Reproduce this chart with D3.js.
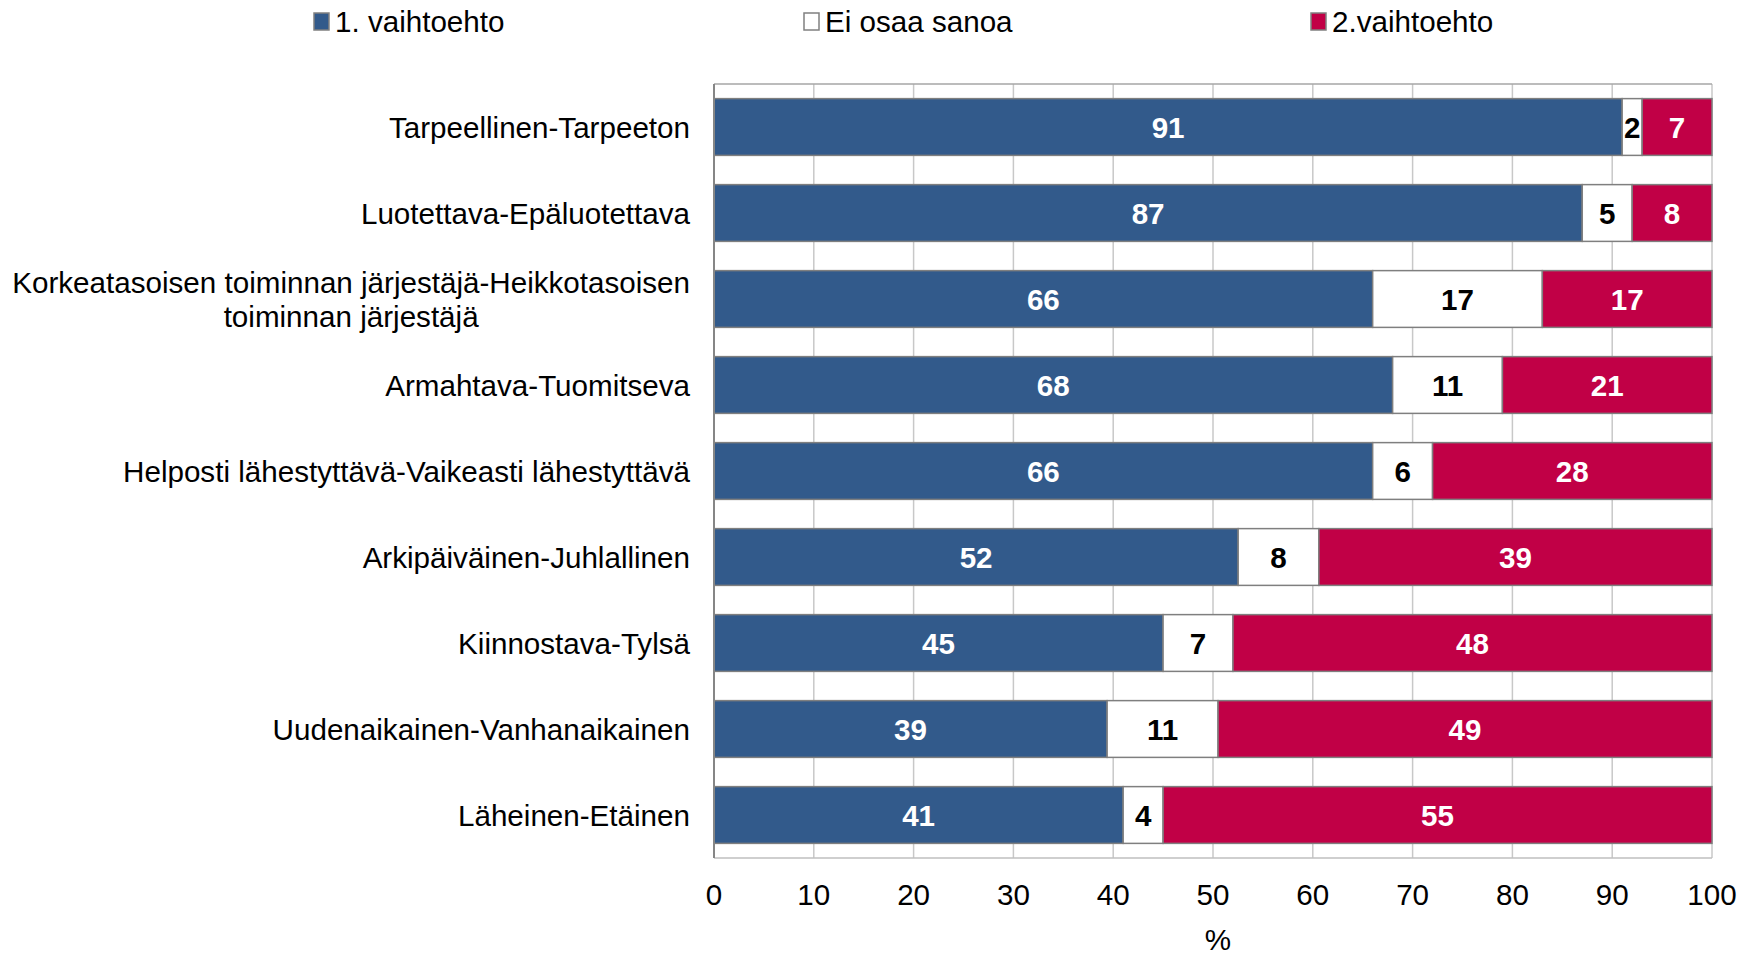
<!DOCTYPE html>
<html>
<head>
<meta charset="utf-8">
<script src="https://cdn.jsdelivr.net/npm/d3@7"></script>
<style>
  body { margin: 0; background: #fff; }
  text { font-family: "Liberation Sans", Arial, sans-serif; }
</style>
</head>
<body>
<div id="chart"></div>
<script>
// Data
const categories = [
  "Tarpeellinen-Tarpeeton",
  "Luotettava-Epäluotettava",
  "Korkeatasoisen toiminnan järjestäjä-Heikkotasoisen|toiminnan järjestäjä",
  "Armahtava-Tuomitseva",
  "Helposti lähestyttävä-Vaikeasti lähestyttävä",
  "Arkipäiväinen-Juhlallinen",
  "Kiinnostava-Tylsä",
  "Uudenaikainen-Vanhanaikainen",
  "Läheinen-Etäinen"
];
const first = [91, 87, 66, 68, 66, 52, 45, 39, 41];
const dontKnow = [2, 5, 17, 11, 6, 8, 7, 11, 4];
const second = [7, 8, 17, 21, 28, 39, 48, 49, 55];
const seriesNames = ["1. vaihtoehto", "Ei osaa sanoa", "2.vaihtoehto"];
const xTicks = [0, 10, 20, 30, 40, 50, 60, 70, 80, 90, 100];

const colors = ["#325A8B", "#FFFFFF", "#C10046"];
const labelColors = ["#fff", "#000", "#fff"];

// Dimensions
const W = 1741, H = 956;
const margin = { top: 84, right: 29, bottom: 98, left: 714 };
const width = W - margin.left - margin.right;
const height = H - margin.top - margin.bottom;
const fs = "29.6px";

const svg = d3.select("#chart")
  .append("svg")
  .attr("width", W)
  .attr("height", H);

const g = svg.append("g")
  .attr("transform", `translate(${margin.left},${margin.top})`);

const rows = categories.map((c, i) => ({ cat: c, s0: first[i], s1: dontKnow[i], s2: second[i] }));
const stack = d3.stack().keys(["s0", "s1", "s2"]).offset(d3.stackOffsetExpand);
const stacked = stack(rows);

// Scales
const x = d3.scaleLinear().domain([0, 100]).range([0, width]);
const y = d3.scaleBand()
  .domain(categories)
  .range([0, height])
  .paddingInner(0.34)
  .paddingOuter(0.17);

// Vertical grid lines
g.selectAll("line.grid")
  .data(xTicks.slice(1))
  .enter()
  .append("line")
  .attr("class", "grid")
  .attr("x1", d => x(d))
  .attr("x2", d => x(d))
  .attr("y1", 0)
  .attr("y2", height)
  .style("stroke", "#C8C8C8")
  .style("stroke-width", 1.5);

// Frame top / bottom
g.append("line")
  .attr("x1", 0).attr("x2", width)
  .attr("y1", 0).attr("y2", 0)
  .style("stroke", "#A6A6A6").style("stroke-width", 1.5);
g.append("line")
  .attr("x1", 0).attr("x2", width)
  .attr("y1", height).attr("y2", height)
  .style("stroke", "#BFBFBF").style("stroke-width", 1.5);

// Bars
const layers = g.selectAll("g.layer")
  .data(stacked)
  .enter()
  .append("g")
  .attr("class", "layer");

layers.selectAll("rect")
  .data((d, i) => d.map(p => ({ p, i })))
  .enter()
  .append("rect")
  .attr("x", d => x(d.p[0] * 100))
  .attr("y", d => y(d.p.data.cat))
  .attr("width", d => x(d.p[1] * 100) - x(d.p[0] * 100))
  .attr("height", y.bandwidth())
  .style("fill", d => colors[d.i])
  .style("stroke", "#7F7F7F")
  .style("stroke-width", 1.5);

// Value labels
const keys = ["s0", "s1", "s2"];
layers.selectAll("text")
  .data((d, i) => d.map(p => ({ p, i })))
  .enter()
  .append("text")
  .attr("x", d => x((d.p[0] + d.p[1]) / 2 * 100))
  .attr("y", d => y(d.p.data.cat) + y.bandwidth() / 2)
  .attr("dy", "0.37em")
  .attr("text-anchor", "middle")
  .style("font-size", fs)
  .style("font-weight", "bold")
  .style("fill", d => labelColors[d.i])
  .text(d => d.p.data[keys[d.i]]);

// Left axis line
g.append("line")
  .attr("x1", 0).attr("x2", 0)
  .attr("y1", 0).attr("y2", height)
  .style("stroke", "#868686").style("stroke-width", 2);

// X tick labels
g.selectAll("text.xtick")
  .data(xTicks)
  .enter()
  .append("text")
  .attr("class", "xtick")
  .attr("x", d => x(d))
  .attr("y", height + 47)
  .attr("text-anchor", "middle")
  .style("font-size", fs)
  .style("fill", "#000")
  .text(d => d);

// X axis title
g.append("text")
  .attr("x", width / 2 + 5)
  .attr("y", height + 92)
  .attr("text-anchor", "middle")
  .style("font-size", fs)
  .text("%");

// Category labels
categories.forEach(c => {
  const lines = c.split("|");
  const cy = y(c) + y.bandwidth() / 2;
  const t = g.append("text")
    .attr("y", cy)
    .style("font-size", fs)
    .style("fill", "#000");
  const lh = 34;
  lines.forEach((ln, k) => {
    t.append("tspan")
      .attr("y", cy + (k - (lines.length - 1) / 2) * lh)
      .attr("dy", "0.37em")
      .text(ln);
  });
  if (lines.length === 1) {
    t.attr("text-anchor", "end");
    t.selectAll("tspan").attr("x", -24);
  } else {
    const w = d3.max(t.selectAll("tspan").nodes(), n => n.getComputedTextLength());
    t.attr("text-anchor", "middle");
    t.selectAll("tspan").attr("x", -24 - w / 2);
  }
});

// Legend
const legendX = [314, 804, 1311];
const legend = svg.selectAll("g.legend")
  .data(seriesNames)
  .enter()
  .append("g")
  .attr("class", "legend")
  .attr("transform", (d, i) => `translate(${legendX[i]},0)`);

legend.append("rect")
  .attr("x", 0)
  .attr("y", 13)
  .attr("width", 15)
  .attr("height", 17)
  .style("fill", (d, i) => colors[i])
  .style("stroke", "#808080")
  .style("stroke-width", 1.5);

legend.append("text")
  .attr("x", 21)
  .attr("y", 32)
  .style("font-size", fs)
  .style("fill", "#000")
  .text(d => d);
</script>
</body>
</html>
